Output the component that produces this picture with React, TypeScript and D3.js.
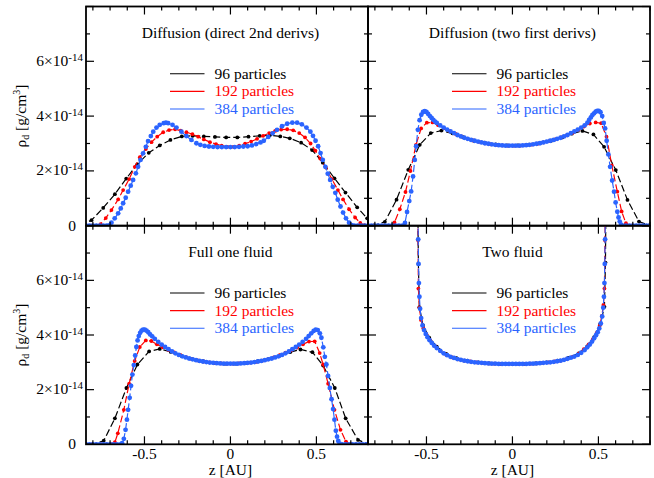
import React from "react";
import * as d3 from "d3";

type P = [number, number];

// ---------- data (z in AU, rho_d in units of 1e-14 g/cm^3) ----------
const seriesNames = ["96 particles", "192 particles", "384 particles"];
const seriesColors = ["#000000", "#ff0000", "#2b64ff"];
const panelTitles = [
  "Diffusion (direct 2nd derivs)",
  "Diffusion (two first derivs)",
  "Full one fluid",
  "Two fluid",
];
const xMajor = [-0.5, 0, 0.5];
const xMajorLabels = ["-0.5", "0", "0.5"];
const xMinor = [-0.8, -0.7, -0.6, -0.4, -0.3, -0.2, -0.1, 0.1, 0.2, 0.3, 0.4, 0.6, 0.7, 0.8];
const yMajor = [0, 2, 4, 6, 8];
const yMajorMant = ["0", "2×10", "4×10", "6×10", ""];
const yMinor = [1, 3, 5, 7];

const tl96: P[] = [[-0.875,0],[-0.808,0.2],[-0.74,0.65],[-0.672,1.15],[-0.606,1.72],[-0.542,2.24],[-0.475,2.66],[-0.411,2.93],[-0.349,3.13],[-0.283,3.26],[-0.22,3.28],[-0.155,3.26],[-0.09,3.24],[-0.025,3.22],[0.04,3.22],[0.105,3.25],[0.17,3.28],[0.229,3.3],[0.29,3.26],[0.345,3.19],[0.411,3.03],[0.475,2.76],[0.537,2.3],[0.605,1.73],[0.669,1.21],[0.737,0.67],[0.795,0.27],[0.85,0.03]];
const tl192: P[] = [[-0.84,0],[-0.81,0],[-0.78,0],[-0.755,0.06],[-0.725,0.28],[-0.692,0.57],[-0.653,0.96],[-0.624,1.3],[-0.589,1.7],[-0.556,2.15],[-0.527,2.5],[-0.492,2.8],[-0.459,3.05],[-0.426,3.25],[-0.391,3.41],[-0.357,3.49],[-0.322,3.52],[-0.289,3.47],[-0.256,3.41],[-0.221,3.34],[-0.188,3.25],[-0.155,3.15],[-0.119,3.05],[-0.084,2.98],[-0.051,2.92],[-0.017,2.88],[0.017,2.88],[0.051,2.92],[0.085,2.99],[0.12,3.07],[0.155,3.17],[0.19,3.28],[0.225,3.38],[0.26,3.46],[0.295,3.51],[0.33,3.52],[0.365,3.48],[0.4,3.38],[0.434,3.22],[0.466,3.0],[0.494,2.74],[0.522,2.45],[0.555,2.12],[0.59,1.7],[0.625,1.3],[0.655,0.96],[0.69,0.6],[0.725,0.3],[0.755,0.1],[0.78,0.02],[0.81,0]];
const tl384: P[] = [[-0.84,0],[-0.82,0],[-0.8,0],[-0.78,0],[-0.76,0],[-0.74,0],[-0.72,0],[-0.705,0.01],[-0.692,0.11],[-0.673,0.27],[-0.653,0.45],[-0.638,0.63],[-0.624,0.82],[-0.609,1.02],[-0.595,1.24],[-0.58,1.46],[-0.566,1.67],[-0.55,1.91],[-0.537,2.15],[-0.523,2.4],[-0.508,2.64],[-0.492,2.88],[-0.479,3.09],[-0.463,3.27],[-0.449,3.43],[-0.43,3.58],[-0.411,3.68],[-0.388,3.74],[-0.375,3.76],[-0.362,3.74],[-0.337,3.68],[-0.314,3.58],[-0.285,3.43],[-0.256,3.27],[-0.227,3.13],[-0.198,3.01],[-0.175,2.95],[-0.15,2.91],[-0.125,2.89],[-0.1,2.88],[-0.075,2.87],[-0.05,2.87],[-0.025,2.87],[0,2.87],[0.025,2.87],[0.05,2.88],[0.075,2.89],[0.1,2.9],[0.125,2.93],[0.15,2.98],[0.175,3.04],[0.194,3.1],[0.22,3.24],[0.245,3.37],[0.271,3.5],[0.3,3.63],[0.33,3.72],[0.36,3.76],[0.388,3.76],[0.415,3.7],[0.442,3.58],[0.465,3.43],[0.48,3.28],[0.495,3.1],[0.51,2.9],[0.524,2.65],[0.537,2.4],[0.552,2.15],[0.566,1.9],[0.58,1.67],[0.595,1.42],[0.61,1.2],[0.624,0.95],[0.64,0.7],[0.655,0.48],[0.672,0.27],[0.69,0.11],[0.705,0.02],[0.72,0],[0.74,0],[0.76,0],[0.78,0],[0.8,0]];

const tr96: P[] = [[-0.875,0],[-0.805,0.01],[-0.742,0.14],[-0.674,0.95],[-0.606,2.04],[-0.539,2.95],[-0.475,3.38],[-0.413,3.47],[-0.349,3.37],[-0.287,3.23],[-0.223,3.1],[-0.161,3.03],[-0.097,2.97],[-0.032,2.93],[0.032,2.93],[0.097,2.96],[0.161,3.02],[0.225,3.1],[0.29,3.22],[0.345,3.36],[0.407,3.46],[0.471,3.33],[0.533,2.88],[0.601,2.03],[0.669,0.94],[0.736,0.15],[0.795,0.01],[0.86,0]];
const tr192: P[] = [[-0.84,0],[-0.81,0],[-0.78,0],[-0.75,0],[-0.72,0],[-0.7,0.01],[-0.686,0.12],[-0.655,0.6],[-0.622,1.23],[-0.593,2.0],[-0.561,2.95],[-0.531,3.55],[-0.498,3.76],[-0.465,3.77],[-0.432,3.67],[-0.398,3.56],[-0.364,3.45],[-0.33,3.35],[-0.296,3.26],[-0.262,3.18],[-0.228,3.11],[-0.194,3.06],[-0.16,3.01],[-0.126,2.97],[-0.092,2.95],[-0.058,2.93],[-0.024,2.92],[0.01,2.92],[0.044,2.92],[0.078,2.94],[0.112,2.96],[0.146,2.99],[0.18,3.04],[0.214,3.09],[0.248,3.15],[0.282,3.22],[0.316,3.3],[0.35,3.39],[0.384,3.5],[0.416,3.62],[0.45,3.73],[0.484,3.77],[0.516,3.74],[0.547,3.25],[0.578,2.2],[0.61,1.24],[0.635,0.52],[0.66,0.09],[0.69,0],[0.72,0],[0.75,0],[0.78,0],[0.81,0]];
const tr384: P[] = [[-0.84,0],[-0.82,0],[-0.8,0],[-0.78,0],[-0.76,0],[-0.74,0],[-0.72,0],[-0.7,0],[-0.68,0],[-0.66,0],[-0.64,0],[-0.625,0.1],[-0.613,0.5],[-0.6,0.9],[-0.589,1.25],[-0.578,1.8],[-0.568,2.4],[-0.56,2.9],[-0.55,3.5],[-0.54,3.85],[-0.53,4.05],[-0.52,4.15],[-0.51,4.18],[-0.5,4.15],[-0.49,4.08],[-0.48,4.0],[-0.47,3.93],[-0.46,3.86],[-0.45,3.8],[-0.44,3.75],[-0.42,3.66],[-0.4,3.58],[-0.38,3.51],[-0.36,3.44],[-0.34,3.38],[-0.32,3.31],[-0.3,3.26],[-0.28,3.21],[-0.26,3.17],[-0.24,3.13],[-0.22,3.1],[-0.2,3.07],[-0.18,3.04],[-0.16,3.01],[-0.14,2.99],[-0.12,2.97],[-0.1,2.95],[-0.08,2.94],[-0.06,2.93],[-0.04,2.92],[-0.02,2.92],[0,2.92],[0.02,2.92],[0.04,2.92],[0.06,2.93],[0.08,2.94],[0.1,2.95],[0.12,2.97],[0.14,2.99],[0.16,3.01],[0.18,3.04],[0.2,3.07],[0.22,3.1],[0.24,3.13],[0.26,3.17],[0.28,3.21],[0.3,3.26],[0.32,3.31],[0.34,3.38],[0.36,3.44],[0.38,3.51],[0.4,3.58],[0.42,3.66],[0.436,3.76],[0.446,3.86],[0.456,3.95],[0.465,4.04],[0.475,4.1],[0.484,4.16],[0.493,4.19],[0.502,4.19],[0.512,4.14],[0.522,4.0],[0.531,3.75],[0.539,3.55],[0.548,3.1],[0.558,2.6],[0.568,2.15],[0.58,1.65],[0.591,1.24],[0.6,0.85],[0.61,0.51],[0.617,0.3],[0.624,0.15],[0.632,0.04],[0.64,0],[0.66,0],[0.68,0],[0.7,0],[0.72,0],[0.74,0],[0.76,0],[0.78,0],[0.8,0]];

const bl96: P[] = [[-0.875,0],[-0.8,0],[-0.737,0.13],[-0.672,0.95],[-0.605,2.06],[-0.541,2.92],[-0.473,3.4],[-0.411,3.49],[-0.347,3.38],[-0.285,3.24],[-0.222,3.12],[-0.16,3.04],[-0.096,2.98],[-0.032,2.95],[0.032,2.95],[0.096,2.98],[0.16,3.04],[0.222,3.12],[0.285,3.24],[0.347,3.37],[0.407,3.47],[0.477,3.37],[0.539,2.88],[0.607,2.06],[0.67,0.95],[0.742,0.16],[0.8,0.01],[0.86,0]];
const bl192: P[] = [[-0.84,0],[-0.81,0],[-0.78,0],[-0.75,0],[-0.72,0],[-0.69,0.01],[-0.672,0.08],[-0.655,0.4],[-0.62,1.26],[-0.589,2.22],[-0.557,3.05],[-0.527,3.56],[-0.492,3.8],[-0.46,3.78],[-0.428,3.66],[-0.394,3.55],[-0.36,3.45],[-0.326,3.36],[-0.292,3.27],[-0.258,3.19],[-0.224,3.12],[-0.19,3.07],[-0.156,3.03],[-0.122,3.0],[-0.088,2.97],[-0.054,2.96],[-0.02,2.95],[0.014,2.95],[0.048,2.96],[0.082,2.97],[0.116,2.99],[0.15,3.02],[0.184,3.06],[0.218,3.11],[0.252,3.18],[0.286,3.26],[0.32,3.35],[0.354,3.44],[0.388,3.54],[0.422,3.66],[0.457,3.76],[0.49,3.77],[0.519,3.34],[0.539,2.92],[0.568,2.22],[0.605,1.26],[0.64,0.53],[0.672,0.1],[0.7,0.01],[0.73,0],[0.76,0],[0.79,0]];
const bl384: P[] = [[-0.84,0],[-0.82,0],[-0.8,0],[-0.78,0],[-0.76,0],[-0.74,0],[-0.72,0],[-0.7,0],[-0.68,0],[-0.66,0],[-0.64,0],[-0.63,0.04],[-0.62,0.2],[-0.61,0.53],[-0.602,0.9],[-0.595,1.26],[-0.586,1.7],[-0.578,2.14],[-0.57,2.55],[-0.562,2.9],[-0.554,3.25],[-0.547,3.56],[-0.54,3.8],[-0.533,3.96],[-0.525,4.08],[-0.517,4.16],[-0.508,4.2],[-0.498,4.2],[-0.488,4.16],[-0.478,4.1],[-0.467,4.02],[-0.455,3.95],[-0.44,3.86],[-0.42,3.75],[-0.4,3.65],[-0.38,3.56],[-0.36,3.48],[-0.34,3.4],[-0.32,3.33],[-0.3,3.27],[-0.28,3.22],[-0.26,3.18],[-0.24,3.14],[-0.22,3.11],[-0.2,3.08],[-0.18,3.05],[-0.16,3.03],[-0.14,3.01],[-0.12,2.99],[-0.1,2.98],[-0.08,2.97],[-0.06,2.96],[-0.04,2.95],[-0.02,2.95],[0,2.95],[0.02,2.95],[0.04,2.95],[0.06,2.96],[0.08,2.97],[0.1,2.98],[0.12,2.99],[0.14,3.01],[0.16,3.03],[0.18,3.05],[0.2,3.08],[0.22,3.11],[0.24,3.14],[0.26,3.18],[0.28,3.22],[0.3,3.27],[0.32,3.33],[0.34,3.4],[0.36,3.48],[0.38,3.56],[0.4,3.65],[0.42,3.75],[0.44,3.86],[0.455,3.96],[0.47,4.06],[0.484,4.15],[0.496,4.2],[0.508,4.18],[0.52,4.06],[0.529,3.9],[0.54,3.55],[0.549,3.2],[0.558,2.92],[0.568,2.5],[0.578,2.06],[0.588,1.65],[0.597,1.29],[0.605,0.9],[0.613,0.5],[0.62,0.28],[0.627,0.12],[0.635,0.02],[0.65,0],[0.67,0],[0.69,0],[0.71,0],[0.73,0],[0.75,0],[0.77,0],[0.79,0]];

const br96: P[] = [[-0.552,10],[-0.547,6.6],[-0.541,5.02],[-0.52,4.35],[-0.484,3.9],[-0.44,3.57],[-0.385,3.31],[-0.325,3.15],[-0.262,3.06],[-0.198,3.0],[-0.133,2.96],[-0.067,2.94],[0,2.94],[0.067,2.94],[0.133,2.96],[0.198,3.0],[0.262,3.06],[0.325,3.16],[0.385,3.33],[0.435,3.58],[0.475,3.92],[0.51,4.4],[0.535,5.03],[0.541,6.65],[0.545,10]];
const br192: P[] = [[-0.551,9],[-0.549,7.47],[-0.547,5.7],[-0.541,5.0],[-0.532,4.55],[-0.518,4.25],[-0.5,4.02],[-0.478,3.8],[-0.452,3.6],[-0.42,3.42],[-0.385,3.28],[-0.35,3.18],[-0.315,3.11],[-0.28,3.06],[-0.245,3.03],[-0.21,3.0],[-0.175,2.98],[-0.14,2.96],[-0.105,2.95],[-0.07,2.94],[-0.035,2.94],[0,2.94],[0.035,2.94],[0.07,2.94],[0.105,2.95],[0.14,2.96],[0.175,2.98],[0.21,3.0],[0.245,3.03],[0.28,3.06],[0.315,3.12],[0.35,3.2],[0.385,3.32],[0.415,3.48],[0.443,3.66],[0.468,3.85],[0.49,4.08],[0.508,4.35],[0.52,4.7],[0.529,5.1],[0.535,5.7],[0.538,7.47],[0.54,9]];
const br384: P[] = [[-0.549,9],[-0.548,7.5],[-0.546,6.6],[-0.544,5.9],[-0.541,5.4],[-0.537,4.96],[-0.531,4.62],[-0.523,4.35],[-0.514,4.18],[-0.504,4.04],[-0.494,3.92],[-0.482,3.81],[-0.469,3.71],[-0.455,3.61],[-0.44,3.52],[-0.42,3.42],[-0.4,3.33],[-0.38,3.26],[-0.36,3.2],[-0.34,3.16],[-0.32,3.12],[-0.3,3.09],[-0.28,3.06],[-0.26,3.04],[-0.24,3.02],[-0.22,3.0],[-0.2,2.99],[-0.18,2.98],[-0.16,2.97],[-0.14,2.96],[-0.12,2.95],[-0.1,2.95],[-0.08,2.94],[-0.06,2.94],[-0.04,2.94],[-0.02,2.94],[0,2.94],[0.02,2.94],[0.04,2.94],[0.06,2.94],[0.08,2.94],[0.1,2.95],[0.12,2.95],[0.14,2.96],[0.16,2.97],[0.18,2.98],[0.2,2.99],[0.22,3.0],[0.24,3.02],[0.26,3.04],[0.28,3.06],[0.3,3.09],[0.32,3.13],[0.34,3.17],[0.36,3.21],[0.38,3.27],[0.4,3.35],[0.42,3.45],[0.435,3.55],[0.45,3.65],[0.463,3.76],[0.475,3.88],[0.486,3.99],[0.496,4.1],[0.505,4.24],[0.514,4.42],[0.522,4.68],[0.528,5.0],[0.532,5.4],[0.535,5.9],[0.537,6.6],[0.539,7.5],[0.54,9]];

const panelData: P[][][] = [
  [tl96, tl192, tl384],
  [tr96, tr192, tr384],
  [bl96, bl192, bl384],
  [br96, br192, br384],
];

// ---------- layout ----------
const FONT = "'Liberation Serif', 'Times New Roman', serif";
const COLX = [86, 368];
const PW = 282;
const ROWY = [[6.5, 225.7], [225.7, 444.3]];
const XDOM: [number, number] = [-0.84, 0.8];
const YDOM: [number, number] = [0, 8];
const dotR = [1.9, 1.9, 2.4];

function Panel({ idx }: { idx: number }) {
  const col = idx % 2;
  const row = Math.floor(idx / 2);
  const x0 = COLX[col];
  const [yTop, yBot] = ROWY[row];
  const x = d3.scaleLinear().domain(XDOM).range([x0, x0 + PW]);
  const y = d3.scaleLinear().domain(YDOM).range([yBot, yTop]);
  const line = d3.line<P>().x((d) => x(d[0])).y((d) => y(d[1]));
  const clipId = `clip${idx}`;
  const series = panelData[idx];
  const fs = 15.5;
  return (
    <g>
      <defs>
        <clipPath id={clipId}>
          <rect x={x0} y={yTop} width={PW} height={yBot - yTop} />
        </clipPath>
      </defs>
      <g clipPath={`url(#${clipId})`}>
        {series.map((s, si) => (
          <g key={si}>
            <path d={line(s) || ""} fill="none" stroke={seriesColors[si]} strokeWidth={1.2} strokeDasharray="7,3" />
            {s.map((d, k) => (
              <circle key={k} cx={x(d[0])} cy={y(d[1])} r={dotR[si]} fill={seriesColors[si]} />
            ))}
          </g>
        ))}
      </g>
      {/* ticks */}
      {yMajor.map((v) => (
        <g key={"ym" + v}>
          <line x1={x0} x2={x0 + 8} y1={y(v)} y2={y(v)} stroke="#000" strokeWidth={1.2} />
          <line x1={x0 + PW} x2={x0 + PW - 8} y1={y(v)} y2={y(v)} stroke="#000" strokeWidth={1.2} />
        </g>
      ))}
      {yMinor.map((v) => (
        <g key={"yn" + v}>
          <line x1={x0} x2={x0 + 4} y1={y(v)} y2={y(v)} stroke="#000" strokeWidth={1.2} />
          <line x1={x0 + PW} x2={x0 + PW - 4} y1={y(v)} y2={y(v)} stroke="#000" strokeWidth={1.2} />
        </g>
      ))}
      {xMajor.map((v) => (
        <g key={"xm" + v}>
          <line x1={x(v)} x2={x(v)} y1={yBot} y2={yBot - 8} stroke="#000" strokeWidth={1.2} />
          <line x1={x(v)} x2={x(v)} y1={yTop} y2={yTop + 8} stroke="#000" strokeWidth={1.2} />
        </g>
      ))}
      {xMinor.map((v) => (
        <g key={"xn" + v}>
          <line x1={x(v)} x2={x(v)} y1={yBot} y2={yBot - 4} stroke="#000" strokeWidth={1.2} />
          <line x1={x(v)} x2={x(v)} y1={yTop} y2={yTop + 4} stroke="#000" strokeWidth={1.2} />
        </g>
      ))}
      <rect x={x0} y={yTop} width={PW} height={yBot - yTop} fill="none" stroke="#000" strokeWidth={1.8} />
      {/* title */}
      <text x={x(0)} y={yTop + 31} textAnchor="middle" fontFamily={FONT} fontSize={fs} fill="#000">
        {panelTitles[idx]}
      </text>
      {/* legend */}
      {seriesNames.map((nm, si) => {
        const ly = yTop + 67.3 + si * 17.6;
        return (
          <g key={nm}>
            <line x1={x0 + 84} x2={x0 + 118.5} y1={ly} y2={ly} stroke={seriesColors[si]} strokeWidth={1.1} />
            <text x={x0 + 128.5} y={ly + 5} fontFamily={FONT} fontSize={fs} fill={seriesColors[si]}>
              {nm}
            </text>
          </g>
        );
      })}
      {/* y tick labels */}
      {col === 0 &&
        yMajor.map((v, i) =>
          yMajorMant[i] === "" ? null : v === 0 ? (
            <text key={"yl" + v} x={76} y={y(v) + 5} textAnchor="end" fontFamily={FONT} fontSize={fs}>
              {yMajorMant[i]}
            </text>
          ) : (
            <text key={"yl" + v} x={83} y={y(v) + 4.5} textAnchor="end" fontFamily={FONT} fontSize={fs}>
              {yMajorMant[i]}
              <tspan dy={-5} fontSize={11}>-14</tspan>
            </text>
          )
        )}
      {col === 0 && (
        <text
          transform={`translate(25.5,${(yTop + yBot) / 2}) rotate(-90)`}
          textAnchor="middle"
          fontFamily={FONT}
          fontSize={fs}
        >
          ρ<tspan dy={3} fontSize={10}>d</tspan>
          <tspan dy={-3}> [g/cm</tspan>
          <tspan dy={-6} fontSize={10}>3</tspan>
          <tspan dy={6}>]</tspan>
        </text>
      )}
      {/* x tick labels */}
      {row === 1 &&
        xMajor.map((v, i) => (
          <text
            key={"xl" + v}
            transform={`translate(${x(v)},459) scale(1.1,1)`}
            textAnchor="middle"
            fontFamily={FONT}
            fontSize={14}
          >
            {xMajorLabels[i]}
          </text>
        ))}
      {row === 1 && (
        <text
          transform={`translate(${x(0)},475) scale(1.1,1)`}
          textAnchor="middle"
          fontFamily={FONT}
          fontSize={14}
        >
          z [AU]
        </text>
      )}
    </g>
  );
}

export default function App() {
  return (
    <div style={{ position: "absolute", left: 0, top: 0 }}>
      <svg width={654} height={478} viewBox="0 0 654 478" style={{ display: "block", background: "#fff" }}>
        {[0, 1, 2, 3].map((i) => (
          <Panel key={i} idx={i} />
        ))}
      </svg>
    </div>
  );
}
